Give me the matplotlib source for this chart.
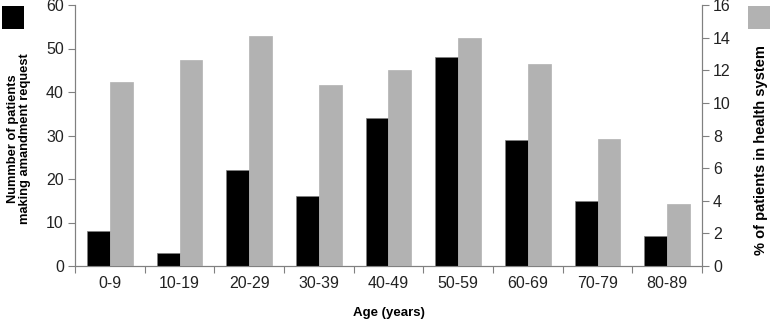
import numpy as np
import matplotlib.pyplot as plt
from matplotlib.patches import Rectangle

plt.rcParams['font.family'] = ['Liberation Sans', 'DejaVu Sans']

# age groups
age_groups = ['0-9', '10-19', '20-29', '30-39', '40-49', '50-59', '60-69', '70-79', '80-89']
# number of patients making amendment request (left axis)
n_requests = [8, 3, 22, 16, 34, 48, 29, 15, 7]
# % of patients in health system (right axis)
pct_patients = [11.3, 12.6, 14.1, 11.1, 12.0, 14.0, 12.4, 7.8, 3.8]

spine_col = '#808080'
gray = '#b2b2b2'

fig = plt.figure(figsize=(7.71, 3.21), dpi=100)
ax = fig.add_axes([75 / 771, 1 - 266 / 321, 627 / 771, 261 / 321])
ax2 = ax.twinx()

x = np.arange(len(age_groups))
w = 0.33
ax.bar(x - w / 2, n_requests, w, color='black', edgecolor=spine_col, linewidth=0.5, zorder=3)
ax2.bar(x + w / 2, pct_patients, w, color=gray, edgecolor=gray, linewidth=0.5, zorder=3)

ax.set_xlim(-0.5, len(age_groups) - 0.5)
ax.set_ylim(0, 60)
ax2.set_ylim(0, 16)
ax.set_yticks(np.arange(0, 61, 10))
ax2.set_yticks(np.arange(0, 17, 2))

# ticks at category boundaries, labels at centers
ax.set_xticks(np.arange(-0.5, len(age_groups), 1))
ax.set_xticklabels([])
ax.set_xticks(x, minor=True)
ax.set_xticklabels(age_groups, minor=True)
ax.tick_params(axis='x', which='minor', length=0, labelsize=11.5, pad=7, colors='#222222')
ax.tick_params(axis='x', which='major', length=5, color=spine_col)

for a in (ax, ax2):
    a.spines['top'].set_visible(False)
    for s in ('left', 'right', 'bottom'):
        a.spines[s].set_color(spine_col)
        a.spines[s].set_linewidth(0.8)
    a.tick_params(axis='y', length=5, color=spine_col, labelsize=11.5, labelcolor='#222222', pad=3)

fig.text(389 / 771, 1 - 313 / 321, 'Age (years)', ha='center', va='center',
         fontsize=9.5, fontweight='bold')
fig.text(19 / 771, 1 - 139 / 321, 'Nummber of patients\nmaking amandment request',
         ha='center', va='center', rotation=90, fontsize=9.3, fontweight='bold',
         linespacing=1.05)
fig.text(761 / 771, 1 - 150 / 321, '% of patients in health system',
         ha='center', va='center', rotation=90, fontsize=10.5, fontweight='bold')

# legend squares
fig.patches.append(Rectangle((2 / 771, 1 - 29 / 321), 22 / 771, 23 / 321,
                             transform=fig.transFigure, facecolor='black', edgecolor='none'))
fig.patches.append(Rectangle((748 / 771, 1 - 29 / 321), 22 / 771, 23 / 321,
                             transform=fig.transFigure, facecolor=gray, edgecolor='none'))

fig.savefig('out.png', dpi=100)
